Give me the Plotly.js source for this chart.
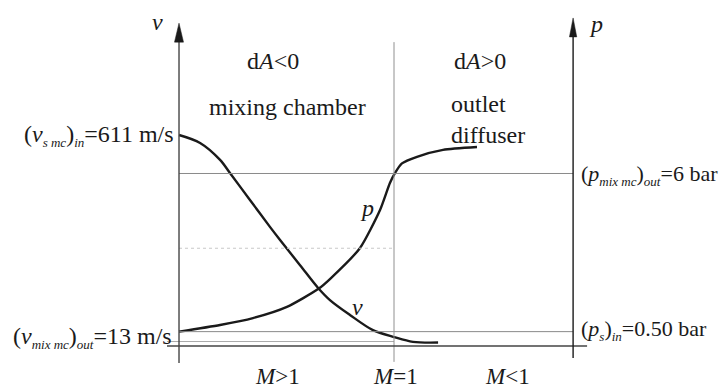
<!DOCTYPE html>
<html>
<head>
<meta charset="utf-8">
<script src="https://cdn.plot.ly/plotly-3.0.1.min.js"></script>
<style>
  html, body { margin: 0; padding: 0; background: #fff; }
  #myDiv { width: 727px; height: 389px; }
</style>
</head>
<body>
<div id="myDiv"></div>
<script>
// position along the nozzle: 0 = inlet (v axis), 1 = throat (M=1)
let vPos = [0, 0.098, 0.191, 0.237, 0.330, 0.423, 0.470, 0.563, 0.647, 0.702, 0.795, 0.902, 1.0, 1.088, 1.205]
let vVal = [611, 588, 539, 501, 423, 345, 307, 234, 168, 133, 90, 46, 26, 12, 10]      // m/s

let pPos = [0, 0.191, 0.344, 0.502, 0.647, 0.702, 0.842, 0.935, 0.981, 1.005, 1.037, 1.107, 1.228, 1.386]
let pVal = [0.50, 0.73, 0.97, 1.36, 1.98, 2.33, 3.41, 4.73, 5.67, 6.02, 6.35, 6.58, 6.82, 6.92]  // bar

let vIn = 611, vOut = 13      // m/s
let pOut = 6, pIn = 0.50      // bar
let pMid = 3.4                // dotted level

let machLabels = ["<i>M</i>>1", "<i>M</i>=1", "<i>M</i><1"]
let machPos = [0.456, 1.005, 1.530]

let pAxisPos = 1.833          // position of the p axis

// scales (pixel fitted)
let xRange = [-0.8326, 2.5488]
let vRange = [-124.5, 1002.0]
let pRange = [-1.4955, 12.034]

let FONT = "Liberation Serif"
let dark = "#1a1a1a"
let grey = "#8a8a8a"

// small italic subscript
function sb(s){
	return `<sub><span style="font-size:13px"><i>${s}</i></span></sub>`
}

var data = [
	{
		x: vPos,
		y: vVal,
		mode: "lines",
		line: {color: dark, width: 2.4, shape: "spline", smoothing: 0.9},
		yaxis: "y"
	},
	{
		x: pPos,
		y: pVal,
		mode: "lines",
		line: {color: dark, width: 2.4, shape: "spline", smoothing: 0.6},
		yaxis: "y2"
	}
]

let shapes = [
	// reference levels
	{type: "line", xref: "x", yref: "y2", x0: 0, x1: pAxisPos, y0: pOut, y1: pOut, line: {color: grey, width: 1}},
	{type: "line", xref: "x", yref: "y2", x0: 0, x1: pAxisPos, y0: pIn, y1: pIn, line: {color: grey, width: 1}},
	{type: "line", xref: "x", yref: "y", x0: -0.056, x1: 1, y0: vOut, y1: vOut, line: {color: "#aaaaaa", width: 1}},
	{type: "line", xref: "x", yref: "y2", x0: 0, x1: 1, y0: pMid, y1: pMid, line: {color: "#c8c8c8", width: 1, dash: "dot"}},
	// throat line
	{type: "line", xref: "x", yref: "y", x0: 1, x1: 1, y0: -46, y1: 880, line: {color: "#909090", width: 1}},
	// bottom axis
	{type: "line", xref: "x", yref: "y", x0: -0.056, x1: 1.898, y0: 0, y1: 0, line: {color: "#444", width: 1.4}},
	// v axis
	{type: "line", xref: "x", yref: "y", x0: 0, x1: 0, y0: -49, y1: 890, line: {color: "#444", width: 1.4}},
	{type: "path", xref: "x", yref: "y", path: "M -0.021 880 L 0 935 L 0.021 880 Z", fillcolor: dark, line: {color: dark, width: 0.5}},
	// p axis
	{type: "line", xref: "x", yref: "y2", x0: pAxisPos, x1: pAxisPos, y0: -0.42, y1: 10.9, line: {color: dark, width: 1.4}},
	{type: "path", xref: "x", yref: "y2", path: `M ${pAxisPos - 0.017} 10.75 L ${pAxisPos} 11.41 L ${pAxisPos + 0.017} 10.75 Z`, fillcolor: dark, line: {color: dark, width: 0.5}}
]

function txt(text, x, y, yref, xanchor, extra){
	let a = {
		text: text, x: x, y: y, xref: "x", yref: yref,
		xanchor: xanchor, yanchor: "middle",
		showarrow: false,
		font: {family: FONT, size: 24, color: dark}
	}
	return Object.assign(a, extra || {})
}

let small = {font: {family: FONT, size: 22, color: dark}}

let annotations = [
	txt("<i>v</i>", -0.098, 938, "y", "center"),
	txt("<i>p</i>", 1.94, 11.2, "y2", "center"),
	txt("d<i>A</i><0", 0.437, 824, "y", "center"),
	txt("mixing chamber", 0.505, 692, "y", "center"),
	txt("d<i>A</i>>0", 1.40, 824, "y", "center"),
	txt("outlet<br>diffuser", 1.256, 656, "y", "left", {align: "left"}),
	txt("<i>p</i>", 0.875, 400, "y", "center"),
	txt("<i>v</i>", 0.828, 113, "y", "center"),
	txt("(<i>v</i>" + sb("s mc") + ")" + sb("in") + "=" + vIn + " m/s", -0.015, vIn, "y", "right"),
	txt("(<i>v</i>" + sb("mix mc") + ")" + sb("out") + "=" + vOut + " m/s", -0.024, 26, "y", "right"),
	txt("(<i>p</i>" + sb("mix mc") + ")" + sb("out") + "=" + pOut + " bar", 1.862, pOut - 0.05, "y2", "left", small),
	txt("(<i>p</i>" + sb("s") + ")" + sb("in") + "=" + pIn.toFixed(2) + " bar", 1.862, pIn + 0.05, "y2", "left", small)
]
for (let i = 0; i < machLabels.length; i++){
	annotations.push(txt(machLabels[i], machPos[i], -88, "y", "center", {font: {family: FONT, size: 23, color: dark}}))
}

var layout = {
	width: 727,
	height: 389,
	margin: {l: 0, r: 0, t: 0, b: 0},
	paper_bgcolor: "#fff",
	plot_bgcolor: "#fff",
	showlegend: false,
	font: {family: FONT, size: 24, color: dark},
	xaxis: {range: xRange, visible: false, fixedrange: true},
	yaxis: {range: vRange, visible: false, fixedrange: true},
	yaxis2: {range: pRange, visible: false, overlaying: "y", fixedrange: true},
	shapes: shapes,
	annotations: annotations
}

Plotly.newPlot("myDiv", data, layout, {staticPlot: true})
</script>
</body>
</html>
